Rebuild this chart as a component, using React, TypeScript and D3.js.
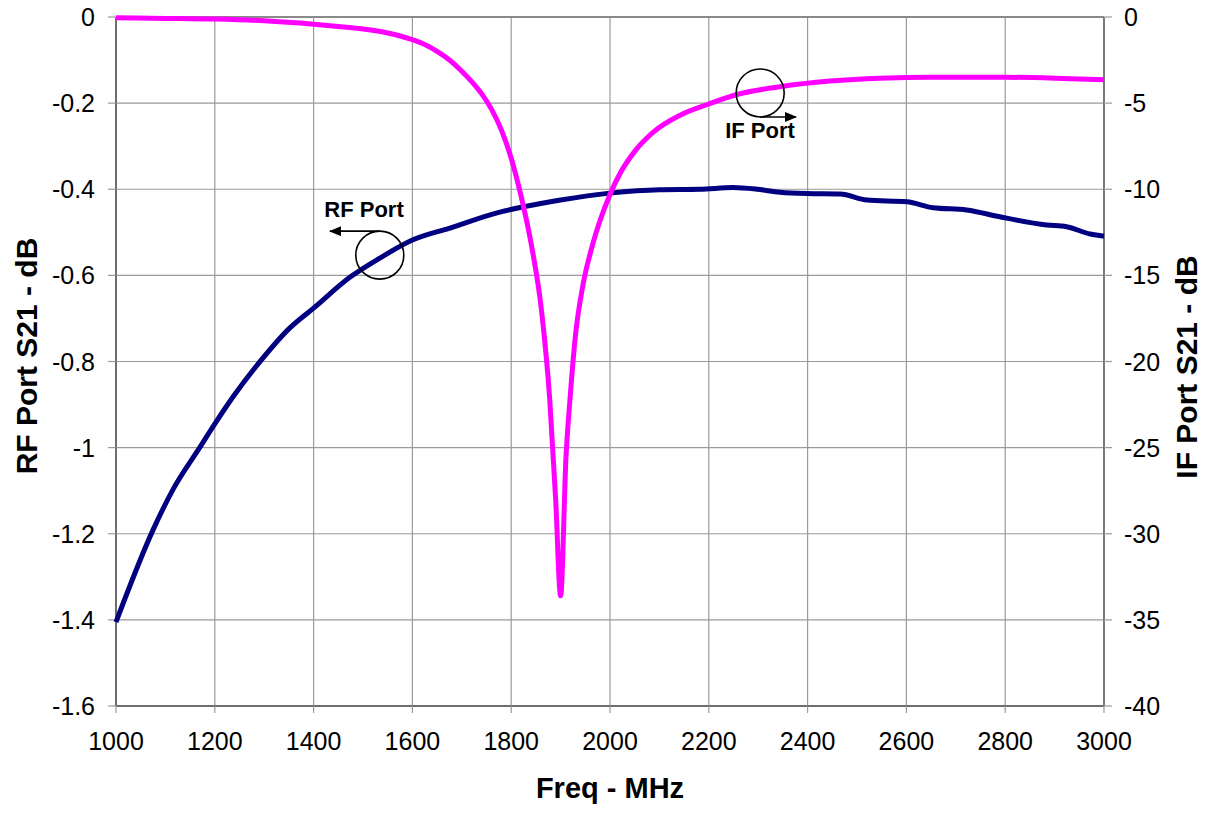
import * as d3 from "d3";

// RF port S21 (left axis, dB)
const rfFreq = [1000, 1075, 1115, 1170, 1200, 1237, 1291, 1352, 1400, 1474, 1534, 1600, 1676, 1777, 1824, 1900, 2000, 2100, 2182, 2249, 2298, 2344, 2398, 2466, 2520, 2601, 2654, 2722, 2789, 2884, 2924, 2972, 3000];
const rfS21 = [-1.405, -1.191, -1.098, -0.999, -0.945, -0.882, -0.801, -0.722, -0.676, -0.604, -0.56, -0.518, -0.49, -0.453, -0.441, -0.425, -0.409, -0.401, -0.4, -0.396, -0.4, -0.407, -0.41, -0.411, -0.425, -0.429, -0.443, -0.448, -0.464, -0.483, -0.487, -0.504, -0.509];

// IF port S21 (right axis, dB)
const ifFreq = [1000, 1100, 1200, 1300, 1400, 1450, 1500, 1550, 1600, 1625, 1650, 1675, 1700, 1720, 1740, 1760, 1780, 1800, 1820, 1840, 1862, 1878, 1890, 1900, 1911, 1919, 1930, 1945, 1963, 1980, 2000, 2020, 2050, 2087, 2142, 2200, 2257, 2344, 2445, 2547, 2650, 2800, 2900, 3000];
const ifS21 = [-0.05, -0.08, -0.12, -0.22, -0.42, -0.55, -0.7, -0.93, -1.32, -1.6, -2.0, -2.5, -3.15, -3.75, -4.45, -5.35, -6.55, -8.2, -10.4, -13.1, -17.2, -22.2, -28.0, -33.6, -25.5, -22.2, -18.5, -15.6, -13.4, -11.8, -10.3, -9.1, -7.8, -6.7, -5.7, -5.05, -4.5, -4.05, -3.72, -3.55, -3.5, -3.5, -3.55, -3.65];

const xTicks = [1000, 1200, 1400, 1600, 1800, 2000, 2200, 2400, 2600, 2800, 3000];
const leftTicks = [0, -0.2, -0.4, -0.6, -0.8, -1, -1.2, -1.4, -1.6];
const rightTicks = [0, -5, -10, -15, -20, -25, -30, -35, -40];

const W = 1206;
const H = 831;
const left = 116;
const right = 1104;
const top = 17;
const bottom = 706;
const font = "Arial, 'Liberation Sans', sans-serif";

export default function App() {
  const x = d3.scaleLinear().domain([1000, 3000]).range([left, right]);
  const yL = d3.scaleLinear().domain([-1.6, 0]).range([bottom, top]);
  const yR = d3.scaleLinear().domain([-40, 0]).range([bottom, top]);

  const rfPath =
    d3
      .line<number>()
      .x((_, i) => x(rfFreq[i]))
      .y((d) => yL(d))
      .curve(d3.curveMonotoneX)(rfS21) ?? "";
  const ifPath =
    d3
      .line<number>()
      .x((_, i) => x(ifFreq[i]))
      .y((d) => yR(d))
      .curve(d3.curveMonotoneX)(ifS21) ?? "";

  // annotation anchors (data coords)
  const rfC = [x(1534), yL(-0.553)];
  const ifC = [x(2304), yR(-4.41)];
  const r = 24;

  return (
    <svg
      width={W}
      height={H}
      style={{ position: "absolute", left: 0, top: 0, background: "#fff" }}
      fontFamily={font}
    >
      <rect x={0} y={0} width={W} height={H} fill="#fff" />
      {/* grid */}
      {xTicks.slice(1, -1).map((t) => (
        <line key={"gx" + t} x1={x(t)} x2={x(t)} y1={top} y2={bottom} stroke="#9a9a9a" strokeWidth={1.2} />
      ))}
      {leftTicks.slice(1, -1).map((t) => (
        <line key={"gy" + t} x1={left} x2={right} y1={yL(t)} y2={yL(t)} stroke="#9a9a9a" strokeWidth={1.2} />
      ))}
      {/* frame */}
      <line x1={left} x2={right} y1={top} y2={top} stroke="#8a8a8a" strokeWidth={2} />
      <line x1={left} x2={right} y1={bottom} y2={bottom} stroke="#6e6e6e" strokeWidth={2} />
      <line x1={left} x2={left} y1={top} y2={bottom} stroke="#6e6e6e" strokeWidth={2} />
      <line x1={right} x2={right} y1={top} y2={bottom} stroke="#7a7a7a" strokeWidth={2} />

      {/* ticks and labels */}
      {xTicks.map((t) => (
        <g key={"xt" + t}>
          <line x1={x(t)} x2={x(t)} y1={bottom} y2={bottom + 7} stroke="#9a9a9a" strokeWidth={1.2} />
          <text x={x(t)} y={750} fontSize={25} textAnchor="middle" fill="#000">
            {t}
          </text>
        </g>
      ))}
      {leftTicks.map((t) => (
        <g key={"lt" + t}>
          <line x1={left - 8} x2={left} y1={yL(t)} y2={yL(t)} stroke="#9a9a9a" strokeWidth={1.2} />
          <text x={95} y={yL(t)} dy="0.36em" fontSize={25} textAnchor="end" fill="#000">
            {t}
          </text>
        </g>
      ))}
      {rightTicks.map((t) => (
        <g key={"rt" + t}>
          <line x1={right} x2={right + 8} y1={yR(t)} y2={yR(t)} stroke="#9a9a9a" strokeWidth={1.2} />
          <text x={1124} y={yR(t)} dy="0.36em" fontSize={25} textAnchor="start" fill="#000">
            {t}
          </text>
        </g>
      ))}

      {/* series */}
      <path d={rfPath} fill="none" stroke="#000080" strokeWidth={5} strokeLinejoin="round" />
      <path d={ifPath} fill="none" stroke="#ff00ff" strokeWidth={5} strokeLinejoin="round" />

      {/* annotations */}
      <defs>
        <marker id="arr" viewBox="0 0 12 10" refX={11} refY={5} markerWidth={12} markerHeight={10} markerUnits="userSpaceOnUse" orient="auto">
          <path d="M0,0 L12,5 L0,10 z" fill="#000" />
        </marker>
      </defs>
      <circle cx={rfC[0]} cy={rfC[1]} r={r} fill="none" stroke="#000" strokeWidth={1.6} />
      <line x1={rfC[0]} y1={rfC[1] - r} x2={330} y2={rfC[1] - r} stroke="#000" strokeWidth={1.6} markerEnd="url(#arr)" />
      <text x={364} y={217} fontSize={22} fontWeight="bold" textAnchor="middle" fill="#000">
        RF Port
      </text>
      <circle cx={ifC[0]} cy={ifC[1]} r={r} fill="none" stroke="#000" strokeWidth={1.6} />
      <line x1={ifC[0]} y1={ifC[1] + r} x2={796} y2={ifC[1] + r} stroke="#000" strokeWidth={1.6} markerEnd="url(#arr)" />
      <text x={760} y={138} fontSize={22} fontWeight="bold" textAnchor="middle" fill="#000">
        IF Port
      </text>

      {/* axis titles */}
      <text x={610} y={798} fontSize={29} fontWeight="bold" textAnchor="middle" fill="#000">
        Freq - MHz
      </text>
      <text transform="translate(37,356) rotate(-90)" fontSize={30} fontWeight="bold" textAnchor="middle" fill="#000">
        RF Port S21 - dB
      </text>
      <text transform="translate(1197,367) rotate(-90)" fontSize={30} fontWeight="bold" textAnchor="middle" fill="#000">
        IF Port S21 - dB
      </text>
    </svg>
  );
}
